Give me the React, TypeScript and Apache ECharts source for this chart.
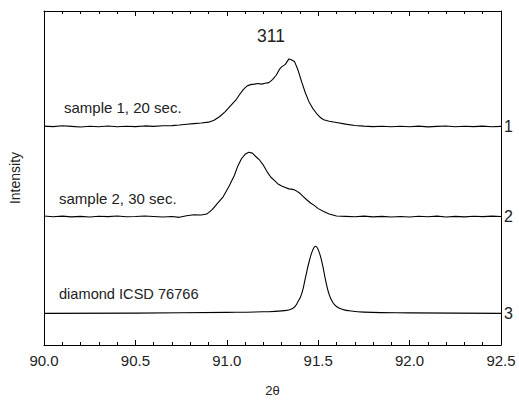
import React, { useEffect, useRef } from "react";
import * as echarts from "echarts";

// 2θ / intensity pairs (intensity in arbitrary offset units)
const sample1: [number, number][] = [
  [90.0, 221.5], [90.05, 221.0], [90.1, 221.8], [90.15, 221.2], [90.2, 220.6],
  [90.25, 221.4], [90.3, 220.9], [90.35, 221.6], [90.4, 220.8], [90.45, 221.3],
  [90.5, 221.0], [90.55, 221.7], [90.6, 221.2], [90.65, 221.9], [90.7, 222.0],
  [90.74, 222.6], [90.78, 223.4], [90.82, 224.0], [90.86, 224.6], [90.9, 225.5],
  [90.93, 227.4], [90.96, 231.0], [90.99, 236.0], [91.02, 242.0], [91.05, 248.0],
  [91.07, 253.5], [91.09, 258.5], [91.11, 262.0], [91.13, 263.5], [91.15, 264.0],
  [91.17, 264.6], [91.19, 264.0], [91.21, 264.8], [91.23, 265.5], [91.25, 268.5],
  [91.27, 273.0], [91.29, 279.5], [91.3, 281.5], [91.32, 284.0], [91.34, 289.5],
  [91.35, 289.0], [91.37, 287.0], [91.39, 278.0], [91.41, 266.0], [91.43, 255.0],
  [91.45, 246.0], [91.47, 239.5], [91.49, 234.5], [91.51, 230.5], [91.53, 228.0],
  [91.56, 226.5], [91.6, 225.2], [91.65, 223.5], [91.7, 222.2], [91.75, 221.5],
  [91.8, 221.0], [91.85, 221.4], [91.9, 220.8], [91.95, 221.3], [92.0, 220.9],
  [92.05, 221.5], [92.1, 220.7], [92.15, 221.2], [92.2, 221.6], [92.25, 220.9],
  [92.3, 221.4], [92.35, 221.0], [92.4, 221.5], [92.45, 220.8], [92.5, 221.2],
];

const sample2: [number, number][] = [
  [90.0, 130.5], [90.05, 129.8], [90.1, 130.4], [90.15, 129.7], [90.2, 130.2],
  [90.25, 129.6], [90.3, 130.3], [90.35, 129.9], [90.4, 130.6], [90.45, 129.8],
  [90.5, 130.0], [90.55, 130.5], [90.6, 130.1], [90.65, 129.6], [90.7, 130.0],
  [90.74, 129.2], [90.78, 130.8], [90.82, 131.8], [90.86, 131.5], [90.89, 132.5],
  [90.92, 137.0], [90.95, 143.5], [90.98, 150.0], [91.01, 160.0], [91.04, 171.0],
  [91.06, 181.0], [91.08, 188.5], [91.1, 193.0], [91.12, 195.0], [91.14, 194.2],
  [91.16, 190.5], [91.18, 187.0], [91.2, 182.0], [91.22, 175.5], [91.24, 170.0],
  [91.26, 166.5], [91.28, 163.0], [91.3, 161.0], [91.32, 159.5], [91.34, 158.0],
  [91.36, 157.5], [91.38, 156.0], [91.4, 153.5], [91.42, 150.0], [91.44, 146.5],
  [91.46, 143.5], [91.48, 141.0], [91.5, 138.0], [91.53, 135.0], [91.56, 132.5],
  [91.6, 130.5], [91.65, 130.2], [91.7, 129.8], [91.75, 130.4], [91.8, 129.7],
  [91.85, 130.2], [91.9, 129.6], [91.95, 130.1], [92.0, 129.5], [92.05, 130.3],
  [92.1, 129.8], [92.15, 130.4], [92.2, 129.6], [92.25, 130.2], [92.3, 129.7],
  [92.35, 130.3], [92.4, 129.9], [92.45, 130.4], [92.5, 130.0],
];

const diamond: [number, number][] = [
  [90.0, 32.0], [90.5, 32.3], [91.0, 33.0], [91.2, 33.6], [91.3, 34.5],
  [91.36, 37.0], [91.39, 44.0], [91.41, 52.0], [91.43, 68.0], [91.45, 84.0],
  [91.47, 96.0], [91.485, 100.0], [91.5, 96.5], [91.52, 84.0], [91.54, 66.0],
  [91.56, 51.0], [91.58, 43.0], [91.6, 39.0], [91.63, 36.2], [91.67, 34.6],
  [91.75, 33.3], [92.0, 32.5], [92.5, 32.0],
];

const seriesLabels = ["1", "2", "3"];
const annotations = ["311", "sample 1, 20 sec.", "sample 2, 30 sec.", "diamond ICSD 76766"];

const FONT = "'Liberation Sans', Arial, sans-serif";
const TXT = "#222";

export default function App() {
  const ref = useRef<HTMLDivElement>(null);
  useEffect(() => {
    document.body.style.margin = "0";
    const chart = echarts.init(ref.current!, null, { renderer: "svg" });
    const xCommon = {
      type: "value" as const,
      min: 90,
      max: 92.5,
      interval: 0.5,
      axisLine: { show: true, onZero: false, lineStyle: { color: "#000", width: 1 } },
      axisTick: { show: true, inside: true, length: 5, lineStyle: { color: "#000" } },
      minorTick: { show: true, splitNumber: 5, length: 3, lineStyle: { color: "#000" } },
      splitLine: { show: false },
      minorSplitLine: { show: false },
    };
    const yCommon = {
      type: "value" as const,
      min: 0,
      max: 338,
      axisLine: { show: true, onZero: false, lineStyle: { color: "#000", width: 1 } },
      axisTick: { show: false },
      axisLabel: { show: false },
      splitLine: { show: false },
    };
    const mk = (data: [number, number][], label: string, smooth: boolean) => ({
      type: "line",
      data,
      showSymbol: false,
      smooth,
      lineStyle: { color: "#000", width: 1.1 },
      endLabel: {
        show: true,
        formatter: label,
        fontSize: 16,
        color: TXT,
        fontFamily: FONT,
        distance: 3,
      },
    });
    chart.setOption({
      animation: false,
      textStyle: { fontFamily: FONT },
      grid: { left: 40, top: 11, right: 18, bottom: 53, containLabel: false },
      xAxis: [
        {
          ...xCommon,
          position: "bottom",
          name: "2θ",
          nameLocation: "middle",
          nameGap: 39,
          nameTextStyle: { fontSize: 13, color: TXT, fontFamily: FONT },
          axisLabel: {
            show: true,
            fontSize: 15,
            color: TXT,
            margin: 8,
            fontFamily: FONT,
            formatter: (v: number) => v.toFixed(1),
          },
        },
        {
          ...xCommon,
          position: "top",
          axisLabel: { show: false },
        },
      ],
      yAxis: [
        {
          ...yCommon,
          position: "left",
          name: "Intensity",
          nameLocation: "middle",
          nameRotate: 90,
          nameGap: 22,
          nameTextStyle: { fontSize: 14, color: TXT, fontFamily: FONT },
        },
        { ...yCommon, position: "right" },
      ],
      series: [
        mk(sample1, seriesLabels[0], false),
        mk(sample2, seriesLabels[1], false),
        mk(diamond, seriesLabels[2], true),
      ],
      graphic: [
        {
          type: "text",
          left: 257,
          top: 27,
          style: { text: annotations[0], font: `17.5px ${FONT}`, fill: TXT },
        },
        {
          type: "text",
          left: 64,
          top: 100,
          style: { text: annotations[1], font: `15px ${FONT}`, fill: TXT },
        },
        {
          type: "text",
          left: 59,
          top: 191,
          style: { text: annotations[2], font: `15px ${FONT}`, fill: TXT },
        },
        {
          type: "text",
          left: 59,
          top: 286,
          style: { text: annotations[3], font: `14.6px ${FONT}`, fill: TXT },
        },
      ],
    });
    return () => chart.dispose();
  }, []);
  return <div ref={ref} style={{ width: 519, height: 402 }} />;
}
